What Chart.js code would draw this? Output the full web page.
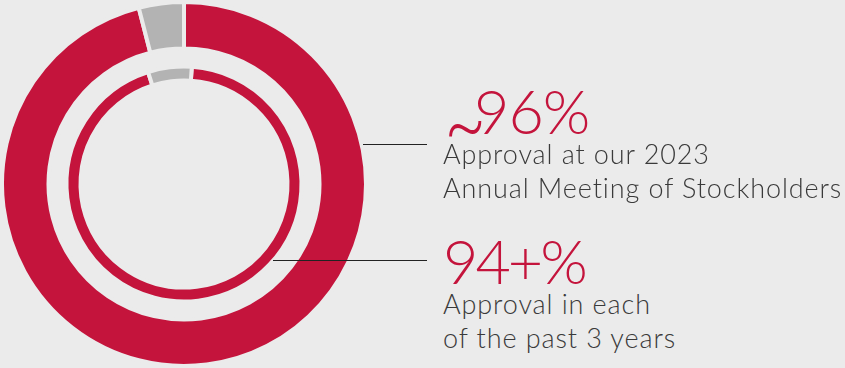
<!DOCTYPE html>
<html>
<head>
<meta charset="utf-8">
<script src="https://cdn.jsdelivr.net/npm/chart.js@4"></script>
<style>
  html, body { margin:0; padding:0; background:#ebebeb; }
  body { width:845px; height:368px; position:relative; overflow:hidden; font-family:"Lato", sans-serif; }
  #wrap { position:absolute; left:0; top:0; width:368px; height:368px; }
  .big { position:absolute; color:#c4143c; font-weight:300; font-size:61px; line-height:1; white-space:nowrap; }
  .tilde { position:absolute; left:1px; top:14px; font-size:52px; display:inline-block; transform:scale(1.4, 1.9); transform-origin:0 50%; }
  .sub { position:absolute; color:#3a3a3a; font-weight:300; font-size:27px; line-height:33.5px; letter-spacing:0.9px; white-space:nowrap; }
  .lead { position:absolute; height:1.5px; background:#222; }
</style>
</head>
<body>
<div id="wrap"><canvas id="c" width="368" height="368"></canvas></div>
<div class="lead" style="left:363px; top:143.5px; width:64px;"></div>
<div class="lead" style="left:273px; top:259.5px; width:154px;"></div>
<div class="big" style="left:443px; top:80px;"><span class="tilde">~</span><span style="position:absolute; left:31px; top:0; letter-spacing:-1px;">96%</span></div>
<div class="sub" style="left:443px; top:137px;">Approval at our 2023<br>Annual Meeting of Stockholders</div>
<div class="big" style="left:443px; top:230px; letter-spacing:-3px;">94+%</div>
<div class="sub" style="left:443px; top:287px;">Approval in each<br>of the past 3 years</div>
<script>
const categories = ["For", "Against/Other"];
const approval2023 = [96, 4];
const approvalPast3 = [94, 6];
const spacer = [1];

const red = "#c4143c";
const grey = "#b3b3b3";
const bg = "#ebebeb";

new Chart(document.getElementById("c"), {
  type: "doughnut",
  data: {
    labels: categories,
    datasets: [
      { data: approval2023, backgroundColor: [red, grey], borderColor: bg, borderWidth: 4, weight: 46.5, rotation: 0 },
      { data: spacer, backgroundColor: "rgba(0,0,0,0)", borderWidth: 0, weight: 18 },
      { data: approvalPast3, backgroundColor: [red, grey], borderColor: bg, borderWidth: 4, weight: 14, rotation: 3.8 }
    ]
  },
  options: {
    responsive: false,
    animation: false,
    cutout: 103.5,
    layout: { padding: 0 },
    plugins: { legend: { display: false }, tooltip: { enabled: false } }
  }
});
</script>
</body>
</html>
